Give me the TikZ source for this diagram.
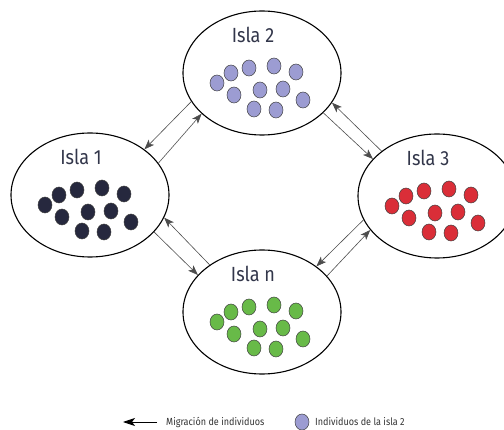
\documentclass[tikz,border=0pt]{standalone}
\usepackage{fontspec}
\setmainfont{Fira Sans}[FakeStretch=0.88]
\usepackage{tikz}
\usetikzlibrary{shapes,arrows.meta,positioning}
\definecolor{islanavy}{RGB}{38,40,62}
\definecolor{islalila}{RGB}{156,156,210}
\definecolor{islaroja}{RGB}{218,46,56}
\definecolor{islaverde}{RGB}{104,186,72}
\definecolor{islatexto}{RGB}{50,54,74}
\tikzset{
  isla/.style={draw, ellipse, line width=1.1pt, minimum width=158pt, minimum height=124pt, inner sep=0pt},
  islalabel/.style={font=\fontsize{20.5}{22}\selectfont, text=islatexto, inner sep=0pt}
}
\begin{document}
\begin{tikzpicture}[
        x=1pt, y=1pt,
        dot/.style={draw=black!75, line width=0.5pt},
        migra/.style={->, >={Stealth[length=10pt,width=7.5pt,inset=2.5pt]}, draw=black!70, line width=0.6pt},
        leyenda/.style={font=\fontsize{10.3}{12}\selectfont, text=black!80, inner sep=0pt}
    ]
        \useasboundingbox (0,0) rectangle (504,429);
        \clip (0,0) rectangle (504,429);

        % Islands
        \node[isla] (isla2) at (262,356) {};
        \node[isla] (isla1) at (90,234) {};
        \node[isla] (isla3) at (437,233) {};
        \node[isla] (islan) at (262,117) {};

        % Island names
        \node[islalabel] (lab1) at ([shift={(-9,38)}]isla1.center) {Isla 1};
        \node[islalabel] (lab2) at ([shift={(-9,38)}]isla2.center) {Isla 2};
        \node[islalabel] (lab3) at ([shift={(-9,38)}]isla3.center) {Isla 3};
        \node[islalabel] (labn) at ([shift={(-9,38)}]islan.center) {Isla n};

        % Individuals of each island
        \foreach \isla/\col in {isla1/islanavy, isla2/islalila, isla3/islaroja, islan/islaverde}
          \foreach \dx/\dy in {-45/-10, -31/0, -13/5, 12/7, 34/1, -28/-22, -2/-17, 21/-16, 41/-27, -8/-36, 14/-37}
            \path[dot, fill=\col] ([shift={(\dx,\dy)}]\isla.center) ellipse [x radius=7, y radius=8];

        % Migration between islands
        \draw[migra] (isla2.202.6) -- (isla1.40.1);
        \draw[migra] (isla1.25.9) -- (isla2.214.1);
        \draw[migra] (isla2.327.6) -- (isla3.150.1);
        \draw[migra] (isla3.141.6) -- (isla2.337.1);
        \draw[migra] (isla1.330.4) -- (islan.150.3);
        \draw[migra] (islan.138.3) -- (isla1.343);
        \draw[migra] (isla3.198) -- (islan.40.5);
        \draw[migra] (islan.29.3) -- (isla3.207.3);

        % Legend
        \node[leyenda, anchor=west] (legmig) at (166,7) {Migración de individuos};
        \coordinate[left=43pt of legmig.west] (legtip);
        \draw[migra, >={Stealth[length=12pt,width=8pt,inset=3pt]}, draw=black, line width=0.9pt] ([xshift=-9pt]legmig.west) -- (legtip);
        \node[leyenda, anchor=west] (legind) at (315,7) {Individuos de la isla 2};
        \path[dot, fill=islalila] ([xshift=-13pt]legind.west) ellipse [x radius=7, y radius=8];
    \end{tikzpicture}
\end{document}
